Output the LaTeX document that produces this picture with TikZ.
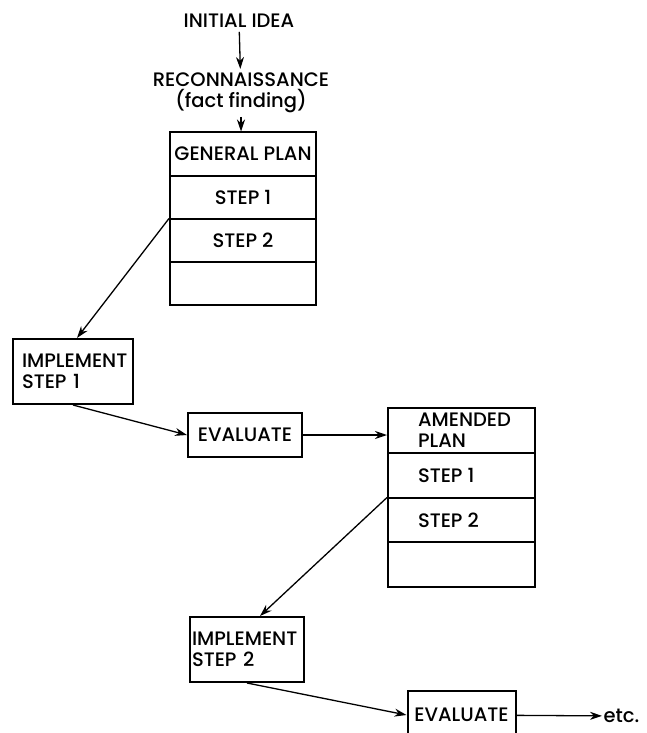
\documentclass[tikz,border=0pt]{standalone}
\usepackage{fontspec}
\setmainfont{Poppins}[UprightFont=* Medium]
\usetikzlibrary{calc,shapes.multipart,arrows.meta}

\newcommand{\planrow}[1]{\parbox[c][41pt][c]{146pt}{\centering #1}}
\newcommand{\amendrow}[1]{\parbox[c][42.75pt][c]{147pt}{\hspace*{30pt}\parbox{112pt}{\raggedright #1}}}

\begin{document}
\begin{tikzpicture}[x=1pt, y=-1pt, font=\fontsize{19.5}{21}\selectfont,
    plan/.style={rectangle split, rectangle split parts=4, draw,
    line width=2pt, inner sep=0pt},
    stepbox/.style={draw, line width=2pt, minimum height=65pt, align=left},
    evalbox/.style={draw, line width=2pt, inner sep=0pt},
    >={Stealth[length=12pt,width=8pt]}, line width=1.3pt]
    \useasboundingbox (0,0) rectangle (646,733);
    \node (idea) at (239,21) {INITIAL IDEA};
    \node[align=center] (recon) at (241,93) {RECONNAISSANCE\\(fact finding)};
    \node[plan] (GP) at (243,218.5) {\planrow{GENERAL PLAN}
        \nodepart{two}\planrow{STEP 1}
        \nodepart{three}\planrow{STEP 2}
        \nodepart{four}\planrow{}};
    \node[stepbox, text width=102pt, inner xsep=9pt] (imp1) at (73,371.5)
        {IMPLEMENT\\STEP 1};
    \node[evalbox, minimum width=114pt, minimum height=44pt] (ev1) at (245,435)
        {EVALUATE};
    \node[plan] (AP) at (461.5,497.5) {\amendrow{AMENDED\\PLAN}
        \nodepart{two}\amendrow{STEP 1}
        \nodepart{three}\amendrow{STEP 2}
        \nodepart{four}\amendrow{}};
    \node[stepbox, text width=110pt, inner xsep=2pt] (imp2) at (247,649.5)
        {IMPLEMENT\\STEP 2};
    \node[evalbox, minimum width=108pt, minimum height=48pt] (ev2) at (461.5,715)
        {EVALUATE};
    \node[inner sep=1pt, anchor=west] (etc) at (602,716) {etc.};
    \draw[->] (idea) -- (recon);
    \draw[->] (recon.south) -- (recon.south |- GP.north);
    \draw[->] (GP.two split west) -- ([xshift=4pt]imp1.north);
    \draw[->] (imp1.south) -- (ev1.west);
    \draw[->] (ev1.east) -- (ev1.east -| AP.west);
    \draw[->] (AP.two split west) -- ([xshift=13pt]imp2.north);
    \draw[->] (imp2.south) -- (ev2.west);
    \draw[->] (ev2) -- (etc);
\end{tikzpicture}
\end{document}
